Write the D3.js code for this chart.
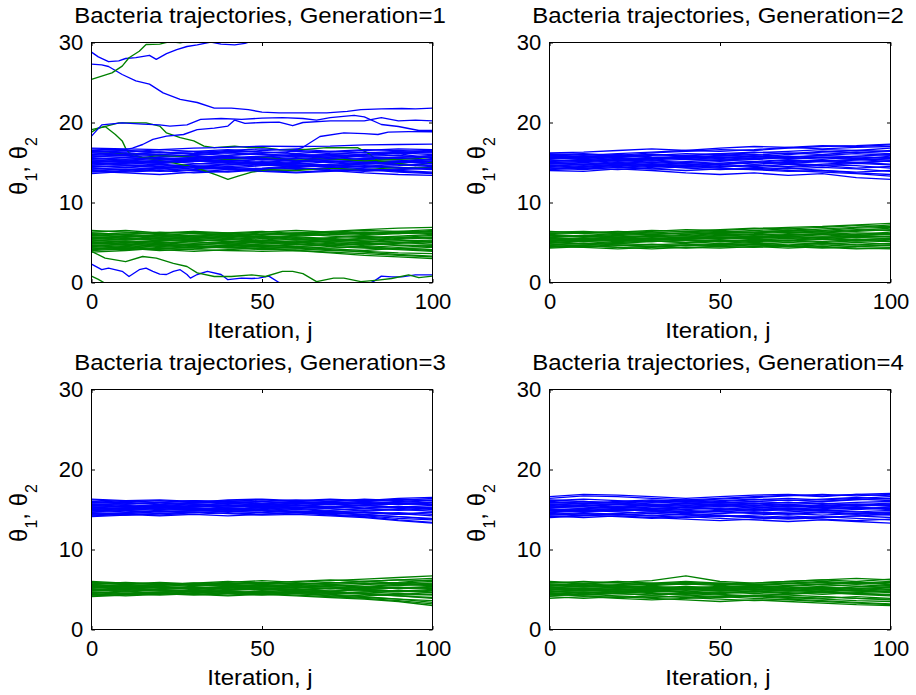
<!DOCTYPE html>
<html><head><meta charset="utf-8">
<script src="https://cdn.jsdelivr.net/npm/d3@7"></script>
<style>body{margin:0;background:#fff}svg{display:block}</style>
</head><body>
<svg id="c" width="916" height="695"></svg>
<script>
const iterations = [0,10,20,30,40,50,60,70,80,90,100];
const xTicks = [0,50,100];
const yTicks = [0,10,20,30];
const titles = ["Bacteria trajectories, Generation=1","Bacteria trajectories, Generation=2","Bacteria trajectories, Generation=3","Bacteria trajectories, Generation=4"];
const xLabel = "Iteration, j";

// Generation 1: theta1 (blue) band, values at iterations
const gen1Theta1 = [
[15.0,15.2,14.9,15.1,15.3,15.0,14.8,15.1,15.2,15.0,15.1],
[14.5,14.6,14.8,14.5,14.3,14.6,14.7,14.4,14.5,14.8,14.6],
[15.6,15.4,15.7,15.9,15.6,15.5,15.8,16.0,15.7,15.6,15.9],
[14.0,14.2,13.9,14.1,14.3,14.0,13.8,14.0,14.2,13.9,13.7],
[16.2,16.0,16.3,16.1,15.9,16.2,16.4,16.1,16.0,16.3,16.2],
[14.8,15.0,15.2,14.9,14.7,15.0,15.3,15.1,14.8,14.9,15.2],
[15.3,15.1,14.9,15.2,15.4,15.6,15.3,15.0,15.4,15.5,15.3],
[13.6,13.9,14.2,14.0,13.8,14.1,14.3,14.0,13.7,13.5,13.4],
[16.5,16.3,16.6,16.4,16.2,16.5,16.7,16.4,16.6,16.5,16.3],
[14.3,14.1,14.4,14.6,14.4,14.2,14.5,14.7,14.5,14.3,14.1],
[15.9,16.1,15.8,15.6,15.9,16.1,15.8,15.7,16.0,16.2,16.0],
[14.9,14.7,14.5,14.8,15.0,14.7,14.5,14.8,15.0,15.2,14.9],
[15.4,15.6,15.5,15.3,15.1,15.4,15.6,15.4,15.2,15.1,15.4],
[13.9,13.7,13.5,13.8,14.1,13.9,14.1,14.3,14.0,14.2,14.4],
[16.7,16.5,16.2,16.4,16.6,16.3,16.1,16.4,16.2,16.4,16.5],
[15.1,15.3,15.5,15.2,15.0,14.8,15.0,15.3,15.5,15.3,15.0],
[14.6,14.4,14.2,14.5,14.7,14.9,14.6,14.4,14.6,14.4,14.2],
[15.7,15.9,16.0,15.8,15.5,15.7,15.9,15.6,15.4,15.7,15.8],
[14.2,14.4,14.7,14.4,14.1,14.3,14.6,14.5,14.2,14.0,13.8],
[15.5,15.3,15.1,15.4,15.7,15.5,15.2,15.5,15.8,15.9,15.6],
[16.0,15.8,15.6,15.4,15.6,15.8,16.0,15.9,15.7,15.5,15.7],
[14.7,14.9,15.1,15.3,15.1,14.9,14.7,14.6,14.9,15.1,14.8],
[13.8,14.0,14.3,14.5,14.2,13.9,13.7,13.9,14.1,13.8,13.6],
[15.2,15.0,15.3,15.5,15.2,15.4,15.1,15.2,15.0,14.7,14.5],
[16.3,16.5,16.3,16.0,16.2,16.0,15.8,16.0,16.3,16.1,16.4],
[14.4,14.6,14.4,14.2,14.5,14.7,14.9,14.7,14.4,14.6,14.9],
[15.8,15.6,15.4,15.6,15.8,15.3,15.5,15.7,15.9,16.1,15.5],
[14.1,13.8,14.0,13.7,13.9,14.2,14.4,14.1,13.9,14.1,14.3],
[15.0,14.8,15.0,15.2,14.9,15.1,14.9,14.6,14.8,15.0,15.4],
[16.4,16.2,16.0,16.2,16.5,16.7,16.5,16.3,16.5,16.7,16.6]
];
// Generation 1: theta2 (green) band
const gen1Theta2 = [
[5.0,5.2,5.1,4.9,5.0,5.2,5.4,5.1,5.0,5.2,5.3],
[4.5,4.3,4.6,4.8,4.6,4.4,4.5,4.7,4.4,4.2,4.4],
[5.6,5.8,5.5,5.7,5.9,5.6,5.8,6.0,5.9,6.1,6.2],
[4.0,4.2,4.1,3.9,4.1,4.3,4.0,3.8,3.6,3.4,3.2],
[6.2,6.0,6.3,6.1,5.9,6.2,6.0,6.3,6.5,6.4,6.6],
[5.3,5.1,4.9,5.2,5.4,5.1,4.9,5.2,5.5,5.3,5.0],
[4.8,5.0,5.3,5.1,4.8,4.6,4.8,4.5,4.3,4.1,3.9],
[5.9,5.7,5.9,6.1,6.2,5.9,6.1,5.8,5.6,5.8,6.0],
[4.2,4.4,4.7,4.5,4.3,4.5,4.3,4.1,3.8,3.5,3.3],
[5.5,5.3,5.6,5.4,5.6,5.8,5.5,5.3,5.5,5.7,5.5],
[6.5,6.3,6.1,6.3,6.1,6.0,6.2,6.4,6.6,6.8,6.9],
[4.6,4.8,4.5,4.3,4.6,4.8,5.0,4.7,4.9,4.6,4.7],
[5.1,4.9,5.2,5.4,5.2,4.9,5.1,5.4,5.2,5.0,4.8],
[3.8,4.0,4.3,4.1,4.0,3.9,4.0,3.7,3.4,3.2,3.0],
[5.8,6.0,5.8,5.5,5.7,6.0,6.2,6.0,6.2,6.4,6.3],
[4.9,4.7,4.9,5.1,4.8,5.0,5.2,5.0,4.7,4.9,5.1],
[5.4,5.6,5.4,5.2,5.4,5.6,5.3,5.6,5.8,5.5,5.7],
[4.3,4.1,4.4,4.6,4.4,4.2,4.4,4.2,4.0,4.3,4.1],
[6.0,6.2,6.0,5.8,6.0,5.7,5.9,6.1,6.3,6.1,6.4],
[5.2,5.4,5.6,5.3,5.1,5.3,5.6,5.4,5.1,5.4,5.6],
[4.7,4.5,4.2,4.4,4.7,4.5,4.7,4.9,4.6,4.4,4.6],
[5.7,5.5,5.3,5.6,5.8,5.5,5.7,5.5,5.3,5.6,5.9],
[4.4,4.6,4.8,4.6,4.4,4.1,4.2,4.0,3.9,3.7,3.6],
[6.3,6.5,6.2,6.4,6.2,6.4,6.1,6.3,6.1,6.3,6.1],
[5.0,4.8,5.0,4.7,4.9,5.1,4.8,4.6,4.8,5.0,5.2],
[5.5,5.7,5.9,5.7,5.5,5.3,5.0,5.2,4.9,4.7,4.5],
[4.1,4.3,4.0,4.2,4.5,4.7,4.5,4.3,4.5,4.2,4.0],
[6.1,5.9,5.7,5.9,6.1,6.3,6.5,6.3,6.0,6.2,6.5]
];
// Generation 1: straying trajectories, [iteration, value] pairs
const gen1Theta1Strays = [
[[0,28.8],[2,28.2],[5,27.6],[8,27.7],[10,28.0],[13,28.1],[17,28.4],[19,27.9],[22,28.6],[25,29.1],[28,29.5],[31,29.7],[35,30.05],[38,29.8],[42,29.7],[45,29.9],[48,30.3]],
[[0,27.3],[3,27.2],[5,27.0],[9,26.0],[13,25.2],[17,24.8],[21,23.7],[26,22.9],[31,22.5],[36,21.8],[41,21.8],[46,21.6],[50,21.3],[55,21.2],[62,21.2],[69,21.2],[75,21.4],[79,21.6],[85,21.7],[91,21.75],[95,21.7],[100,21.8]],
[[0,18.3],[3,19.7],[9,19.95],[15,19.8],[20,19.7],[23,19.55],[28,19.7],[32,20.4],[38,20.5],[44,20.4],[50,20.55],[56,20.6],[62,20.5],[66,20.3],[70,20.6],[77,20.9],[80,20.7],[85,19.75],[90,19.5],[96,19.0],[100,19.0]],
[[0,16.5],[5,16.6],[10,16.6],[12,16.8],[15,17.25],[18,17.9],[22,18.3],[27,18.5],[31,19.1],[36,19.3],[40,19.55],[42,20.3],[45,19.9],[50,20.0],[55,20.05],[59,19.6],[62,20.0],[70,20.2],[80,20.2],[85,20.6],[90,20.2],[95,20.3],[100,20.2]],
[[0,16.2],[10,16.0],[20,16.3],[30,16.1],[40,16.4],[50,16.3],[57,16.2],[62,16.9],[67,18.25],[74,18.7],[80,18.6],[84,18.5],[87,18.8],[93,18.85],[100,18.85]],
[[0,16.8],[10,16.7],[20,16.6],[30,16.8],[40,16.9],[50,17.05],[60,17.0],[70,17.05],[80,17.2],[90,17.25],[100,17.3]],
[[0,2.3],[3,1.6],[5,1.8],[9,1.4],[11,0.75],[14,1.6],[16,1.8],[18,1.4],[20,1.05],[22,1.0],[24,1.4],[26,1.6],[28,1.0],[29,0.55],[31,1.0],[34,1.4],[38,1.0],[40,0.35],[44,0.55],[47,0.5],[49,0.55],[52,0.8],[55,0],[58,-0.5]],
[[80,-0.4],[83,0.2],[85,0.8],[88,0.7],[91,0.7],[95,0.95],[100,0.95]]
];
const gen1Theta2Strays = [
[[0,19.1],[3,19.4],[8,19.95],[12,19.95],[16,19.95],[20,19.55],[22,18.7],[26,18.1],[30,17.7],[33,17.05],[36,16.85],[42,17.05],[46,16.85],[50,16.9],[55,16.6],[62,16.6],[69,16.85],[78,16.85],[81,16.2],[84,15.2],[90,14.9],[95,14.6],[100,15.0]],
[[0,18.8],[2,19.3],[4,19.5],[7,18.5],[9,17.7],[10,16.8],[11,16.2],[15,15.6],[20,15.9],[30,15.7],[40,15.4],[50,15.6],[60,15.3],[70,15.5],[80,15.2],[90,15.4],[100,15.6]],
[[0,16.4],[5,16.3],[10,16.0],[15,15.6],[22,15.1],[28,14.6],[33,14.0],[37,13.4],[40,12.9],[43,13.3],[47,13.8],[52,14.1],[60,14.0],[70,14.3],[80,14.1],[90,14.4],[100,14.3]],
[[0,25.4],[3,25.8],[6,26.2],[9,27.05],[11,28.1],[14,28.9],[16,29.75],[20,29.8],[23,30.1],[26,29.95],[29,30.2],[32,30.6]],
[[0,3.9],[4,3.05],[10,2.6],[15,3.25],[19,3.05],[24,2.4],[28,2.0],[31,1.2],[36,0.75],[41,0.75],[47,0.96],[51,0.75],[56,1.4],[59,1.4],[62,1.1],[66,0.1],[71,0.55],[74,0.55],[79,0.1],[84,0.3],[88,0.5],[93,0.96],[96,0.6],[100,0.8]],
[[0,0.8],[2,0.4],[4,-0.1],[6,-0.5]]
];

const gen2Theta1 = [
[15.0,15.1,15.3,15.2,15.4,15.3,15.5,15.6,15.4,15.7,15.5],
[14.5,14.3,14.5,14.2,14.0,14.2,14.1,13.9,14.0,13.7,13.5],
[15.6,15.8,15.6,15.9,16.1,16.0,16.2,16.4,16.6,16.5,16.8],
[14.1,14.3,14.1,14.4,14.6,14.4,14.7,14.5,14.8,15.0,14.8],
[16.0,16.1,15.9,16.2,16.4,16.6,16.5,16.8,17.0,17.1,17.3],
[15.3,15.1,15.4,15.6,15.4,15.2,15.4,15.1,15.3,15.0,15.2],
[14.8,15.0,14.8,14.6,14.9,15.1,14.8,15.0,15.2,15.4,15.1],
[15.8,15.6,15.8,16.0,15.8,16.1,15.9,16.2,16.0,16.3,16.1],
[14.0,13.9,14.2,14.0,13.7,13.5,13.7,13.4,13.6,13.1,12.9],
[15.5,15.7,15.5,15.3,15.6,15.8,16.0,15.7,15.9,16.1,15.9],
[14.7,14.5,14.8,15.0,14.8,14.5,14.7,14.4,14.6,14.3,14.5],
[16.2,16.3,16.5,16.7,16.5,16.8,17.0,16.9,17.1,17.0,17.2],
[15.1,15.3,15.0,15.2,15.0,14.8,15.0,15.3,15.1,14.9,15.2],
[14.3,14.1,14.4,14.2,14.5,14.3,14.1,14.3,14.0,13.8,14.0],
[15.9,15.7,16.0,15.7,15.5,15.7,15.5,15.8,15.6,15.8,16.0],
[15.2,15.4,15.2,15.5,15.7,15.5,15.8,15.6,15.9,15.7,15.6],
[14.6,14.8,14.6,14.8,14.6,14.8,14.5,14.8,14.6,14.9,14.7],
[15.7,15.5,15.3,15.5,15.7,15.9,15.7,16.0,16.3,16.5,16.4],
[14.9,14.7,14.9,14.7,14.4,14.6,14.4,14.2,14.4,14.2,13.9],
[15.4,15.6,15.8,15.6,15.8,15.6,15.8,15.5,15.7,15.5,15.3],
[16.1,15.9,16.1,16.3,16.5,16.4,16.6,16.9,16.7,16.9,17.0],
[14.4,14.6,14.4,14.6,14.3,14.1,14.3,14.0,13.8,13.6,13.3],
[15.0,14.8,15.1,14.9,15.1,15.3,15.1,14.9,15.1,15.3,15.5],
[15.6,15.4,15.6,15.4,15.6,15.4,15.6,15.4,15.6,15.4,15.8],
[14.2,14.4,14.7,14.5,14.7,14.9,15.1,14.9,14.7,14.6,14.3],
[15.8,16.0,15.8,16.0,15.9,16.1,16.3,16.1,16.4,16.2,16.5]
];
const gen2Theta2 = [
[5.2,5.4,5.3,5.5,5.4,5.6,5.5,5.7,5.6,5.8,5.7],
[4.6,4.4,4.6,4.8,4.6,4.8,4.7,4.5,4.7,4.5,4.4],
[5.8,5.9,6.1,6.0,6.2,6.1,6.3,6.5,6.4,6.6,6.5],
[4.9,5.1,4.9,5.1,5.3,5.1,5.3,5.2,5.4,5.2,5.4],
[6.2,6.1,6.3,6.5,6.4,6.6,6.8,6.7,6.9,7.1,7.0],
[5.5,5.3,5.5,5.3,5.5,5.7,5.6,5.8,5.6,5.9,6.1],
[4.4,4.6,4.4,4.2,4.4,4.3,4.5,4.3,4.5,4.3,4.2],
[5.0,4.8,5.0,5.2,5.0,5.2,5.4,5.3,5.5,5.3,5.5],
[5.7,5.9,5.7,5.9,5.8,6.0,6.1,6.3,6.2,6.4,6.6],
[4.7,4.9,4.7,4.5,4.7,4.9,4.8,5.0,4.8,5.0,4.8],
[6.0,5.8,6.0,6.2,6.0,6.3,6.2,6.4,6.7,6.9,7.2],
[5.3,5.1,5.3,5.1,5.3,5.2,5.0,5.2,5.0,5.2,5.1],
[4.5,4.7,4.9,4.7,4.9,5.1,4.9,4.7,4.9,4.7,4.6],
[5.6,5.4,5.6,5.8,5.6,5.8,6.0,5.9,6.1,5.9,6.0],
[6.3,6.4,6.2,6.4,6.6,6.5,6.7,6.9,7.0,7.2,7.4],
[5.1,5.3,5.1,5.3,5.5,5.4,5.6,5.5,5.7,5.6,5.8],
[4.8,4.6,4.4,4.5,4.3,4.5,4.4,4.6,4.4,4.2,4.3],
[5.9,5.7,5.9,5.7,5.9,6.1,5.9,6.1,6.0,6.2,6.1],
[5.4,5.6,5.4,5.6,5.4,5.6,5.8,5.6,5.4,5.6,5.5],
[4.3,4.5,4.7,4.5,4.7,4.6,4.8,4.6,4.9,4.7,4.9],
[6.1,6.3,6.1,6.0,6.2,6.4,6.3,6.5,6.3,6.5,6.8],
[5.0,5.2,5.4,5.2,5.0,5.3,5.1,5.3,5.1,5.4,5.2],
[5.6,5.8,5.6,5.4,5.6,5.5,5.7,6.0,5.8,6.0,6.3],
[4.6,4.4,4.2,4.4,4.6,4.5,4.7,4.5,4.3,4.5,4.7],
[5.3,5.5,5.7,5.5,5.7,5.9,5.7,5.9,6.1,5.9,5.7],
[6.4,6.2,6.4,6.2,6.4,6.3,6.5,6.7,6.5,6.8,6.9]
];

const gen3Theta1 = [
[15.2,15.4,15.2,15.4,15.5,15.3,15.5,15.3,15.5,15.3,15.5],
[14.6,14.5,14.7,14.8,15.0,14.8,14.6,14.4,14.2,13.9,13.7],
[15.8,15.9,15.7,15.9,16.1,16.0,15.8,16.0,16.2,16.0,16.2],
[14.3,14.5,14.3,14.6,14.8,14.6,14.4,14.6,14.3,14.1,13.9],
[16.2,16.0,16.1,15.9,16.2,16.3,16.1,16.3,16.1,16.4,16.5],
[15.0,15.2,15.0,15.2,14.9,15.1,15.3,15.1,14.9,15.1,15.3],
[15.5,15.3,15.5,15.7,15.5,15.7,15.5,15.7,15.9,15.7,15.6],
[14.9,14.7,14.9,15.0,15.2,15.0,14.8,14.6,14.4,14.1,13.8],
[15.6,15.7,15.9,15.7,15.5,15.4,15.6,15.4,15.2,15.4,15.2],
[14.1,14.3,14.5,14.4,14.6,14.4,14.6,14.3,14.1,13.7,13.4],
[16.0,15.8,15.6,15.8,16.0,16.2,16.0,15.8,16.0,16.3,16.1],
[15.3,15.1,15.3,15.1,15.3,15.5,15.3,15.1,14.8,15.0,14.8],
[14.8,15.0,15.2,15.0,14.8,14.9,15.1,14.9,15.1,14.9,15.1],
[15.9,16.1,15.9,16.1,16.0,15.8,16.0,16.2,16.0,15.8,15.9],
[14.5,14.3,14.5,14.7,14.5,14.3,14.4,14.2,14.0,13.6,13.3],
[15.4,15.6,15.4,15.6,15.8,15.6,15.8,15.6,15.8,15.6,15.8],
[15.1,14.9,15.1,14.9,15.1,15.3,15.1,15.3,15.5,15.3,15.1],
[15.7,15.5,15.3,15.5,15.3,15.5,15.7,15.9,15.7,15.9,16.1],
[14.4,14.6,14.8,14.6,14.8,14.6,14.8,14.6,14.4,14.6,14.4],
[16.3,16.1,16.2,16.0,15.8,16.0,16.2,16.0,16.3,16.1,16.4],
[15.0,15.2,15.4,15.2,15.0,15.2,15.0,14.8,14.6,14.4,14.6],
[14.7,14.9,14.7,14.9,15.1,14.9,14.7,14.5,14.7,14.5,14.2],
[15.5,15.3,15.5,15.3,15.5,15.3,15.5,15.3,15.1,15.3,15.0],
[15.9,15.7,15.9,16.1,15.9,15.7,15.9,15.7,15.5,15.7,15.9],
[14.2,14.4,14.2,14.4,14.2,14.4,14.6,14.8,14.6,14.4,14.7],
[15.2,15.0,15.2,15.4,15.6,15.4,15.2,15.4,15.6,15.8,15.6]
];
const gen3Theta2 = [
[5.0,5.2,5.0,5.2,5.3,5.1,5.3,5.1,5.3,5.1,5.3],
[4.5,4.7,4.5,4.7,4.5,4.3,4.5,4.2,4.0,3.8,3.6],
[5.6,5.4,5.6,5.8,5.6,5.8,5.6,5.8,6.0,6.2,6.1],
[4.2,4.4,4.6,4.4,4.6,4.4,4.6,4.4,4.2,4.4,4.6],
[5.9,5.7,5.9,5.7,5.9,6.1,5.9,6.1,6.3,6.5,6.7],
[5.3,5.1,5.3,5.1,4.9,5.1,4.9,5.1,4.9,4.7,4.9],
[4.8,5.0,4.8,5.0,5.2,5.0,4.8,4.6,4.4,4.2,4.0],
[5.4,5.6,5.8,5.6,5.4,5.6,5.8,5.6,5.8,5.6,5.5],
[4.4,4.2,4.4,4.6,4.8,4.6,4.8,4.5,4.7,4.5,4.3],
[5.7,5.9,5.7,5.5,5.7,5.9,5.7,5.9,5.7,5.9,6.2],
[5.1,4.9,5.1,5.3,5.1,4.9,5.1,4.8,4.5,4.2,3.9],
[4.6,4.8,5.0,4.8,4.6,4.8,4.6,4.8,5.0,4.8,5.0],
[5.5,5.3,5.5,5.7,5.5,5.3,5.5,5.3,5.1,5.3,5.1],
[4.1,4.3,4.5,4.3,4.5,4.7,4.5,4.3,4.1,3.8,3.4],
[6.0,5.8,5.6,5.8,6.0,5.8,6.0,6.2,6.0,6.2,6.4],
[4.9,5.1,4.9,4.7,4.9,5.1,5.3,5.1,5.3,5.1,5.2],
[5.2,5.4,5.2,5.4,5.6,5.4,5.2,5.4,5.6,5.8,5.6],
[4.7,4.5,4.7,4.9,4.7,4.5,4.3,4.1,3.9,3.6,3.2],
[5.8,5.6,5.4,5.6,5.8,5.6,5.4,5.6,5.4,5.6,5.8],
[4.3,4.5,4.3,4.5,4.3,4.5,4.7,4.5,4.7,4.9,4.7],
[5.4,5.2,5.4,5.2,5.4,5.2,5.0,4.8,5.0,4.8,4.6],
[5.0,4.8,4.6,4.8,5.0,5.2,5.0,5.2,5.0,5.2,5.4],
[4.6,4.4,4.6,4.4,4.2,4.4,4.2,4.0,3.8,3.5,3.0],
[5.6,5.8,5.6,5.8,5.6,5.4,5.6,5.8,6.0,5.8,6.0],
[4.9,5.1,5.3,5.1,5.3,5.1,4.9,4.7,4.5,4.3,4.4],
[5.3,5.5,5.3,5.1,5.3,5.5,5.3,5.5,5.3,5.5,5.7]
];

const gen4Theta1 = [
[15.0,14.8,15.0,14.8,15.0,15.2,15.0,15.2,15.0,15.2,15.0],
[14.4,14.6,14.4,14.2,14.0,14.2,14.0,14.2,14.0,14.2,14.4],
[15.6,15.8,15.6,15.8,16.0,15.8,16.0,16.2,16.0,16.3,16.1],
[14.1,14.3,14.1,13.9,14.1,13.9,13.7,13.5,13.7,13.5,13.3],
[16.4,16.7,16.6,16.4,16.2,16.4,16.6,16.8,16.6,16.9,16.7],
[15.3,15.1,15.3,15.1,15.3,15.5,15.3,15.1,15.3,15.1,15.3],
[14.7,14.9,14.7,14.5,14.7,14.5,14.7,14.5,14.3,14.5,14.3],
[15.9,15.7,15.9,16.1,15.9,16.1,16.3,16.1,16.3,16.5,16.3],
[14.2,14.0,14.2,14.0,13.8,13.6,13.8,14.0,13.8,13.6,13.8],
[15.4,15.6,15.4,15.6,15.4,15.6,15.8,15.6,15.8,15.6,15.8],
[16.1,16.3,16.1,15.9,16.1,16.3,16.5,16.7,16.9,16.7,16.9],
[14.9,14.7,14.9,15.1,14.9,14.7,14.5,14.7,14.9,14.7,14.5],
[15.2,15.4,15.6,15.4,15.2,15.4,15.2,15.4,15.6,15.4,15.6],
[14.5,14.3,14.5,14.7,14.5,14.3,14.1,13.9,14.1,13.9,13.7],
[15.7,15.5,15.7,15.5,15.7,15.9,15.7,15.9,15.7,15.9,16.0],
[14.8,15.0,14.8,15.0,15.2,15.0,14.8,15.0,14.8,15.0,15.2],
[15.5,15.3,15.1,15.3,15.5,15.7,15.5,15.3,15.5,15.7,15.5],
[14.0,14.2,14.4,14.2,14.4,14.2,14.0,13.8,14.0,14.2,14.0],
[16.0,15.8,16.0,16.2,16.0,15.8,16.0,15.8,16.0,16.2,16.4],
[15.1,14.9,15.1,14.9,14.7,14.9,15.1,14.9,15.1,15.3,15.1],
[14.6,14.8,15.0,14.8,14.6,14.8,14.6,14.4,14.6,14.4,14.6],
[15.8,16.0,15.8,15.6,15.8,15.6,15.4,15.6,15.4,15.6,15.4],
[14.3,14.5,14.3,14.5,14.3,14.1,14.3,14.5,14.7,14.5,14.7],
[15.3,15.5,15.3,15.5,15.7,15.5,15.7,15.5,15.3,15.5,15.7],
[14.9,15.1,15.3,15.1,15.3,15.1,14.9,15.1,14.9,14.7,14.9],
[16.2,16.0,15.8,16.0,16.2,16.0,16.2,16.4,16.2,16.4,16.6],
[16.6,16.9,16.8,16.6,16.4,16.6,16.8,16.9,16.7,16.9,17.0]
];
const gen4Theta2 = [
[5.0,4.8,5.0,4.8,5.0,4.8,5.0,4.8,5.0,4.8,5.0],
[4.4,4.2,4.0,4.2,4.0,3.8,3.6,3.8,3.6,3.4,3.2],
[5.5,5.7,5.5,5.7,5.9,5.7,5.5,5.7,5.9,5.7,5.9],
[4.1,3.9,4.1,3.9,3.7,3.5,3.7,3.5,3.3,3.1,3.0],
[5.9,5.7,5.9,6.1,6.7,6.0,5.8,6.0,6.2,6.4,6.2],
[4.7,4.9,4.7,4.9,4.7,4.5,4.7,4.5,4.7,4.5,4.3],
[5.3,5.1,5.3,5.1,5.3,5.1,4.9,5.1,4.9,5.1,5.3],
[4.5,4.7,4.5,4.3,4.5,4.7,4.5,4.3,4.1,3.9,3.7],
[5.6,5.4,5.6,5.8,5.6,5.8,5.6,5.8,6.0,5.8,6.0],
[4.9,5.1,4.9,5.1,4.9,5.1,5.3,5.1,5.3,5.1,4.9],
[4.2,4.4,4.2,4.0,4.2,4.0,4.2,4.0,3.8,3.6,3.5],
[5.8,6.0,5.8,5.6,5.8,5.6,5.8,6.0,6.2,6.0,6.3],
[5.1,4.9,5.1,4.9,4.7,4.9,4.7,4.9,4.7,4.9,4.7],
[4.6,4.4,4.6,4.8,4.6,4.4,4.2,4.4,4.6,4.4,4.2],
[5.4,5.6,5.4,5.2,5.4,5.2,5.4,5.2,5.4,5.6,5.4],
[3.9,4.1,3.9,3.7,3.9,4.1,3.9,3.7,3.5,3.3,3.1],
[6.0,5.8,6.0,5.8,6.0,5.8,5.6,5.8,5.6,5.8,5.6],
[4.8,4.6,4.8,4.6,4.4,4.6,4.8,4.6,4.4,4.6,4.8],
[5.2,5.4,5.2,5.4,5.2,5.0,5.2,5.4,5.6,5.4,5.2],
[4.3,4.5,4.7,4.5,4.3,4.1,4.3,4.1,3.9,4.1,3.9],
[5.7,5.5,5.3,5.5,5.7,5.5,5.3,5.5,5.7,5.9,5.7],
[5.0,5.2,5.0,5.2,5.0,5.2,5.0,4.8,5.0,4.8,4.6],
[4.5,4.3,4.5,4.3,4.5,4.3,4.1,3.9,4.1,3.9,3.8],
[5.5,5.3,5.5,5.3,5.1,5.3,5.5,5.3,5.1,5.3,5.5],
[4.7,4.9,5.1,4.9,5.1,4.9,5.1,4.9,4.7,4.5,4.4],
[5.2,5.0,4.8,5.0,5.2,5.4,5.2,5.0,5.2,5.0,5.2]
];

const panels = [
  {title: titles[0], t1: gen1Theta1, t2: gen1Theta2, s1: gen1Theta1Strays, s2: gen1Theta2Strays},
  {title: titles[1], t1: gen2Theta1, t2: gen2Theta2, s1: [], s2: []},
  {title: titles[2], t1: gen3Theta1, t2: gen3Theta2, s1: [], s2: []},
  {title: titles[3], t1: gen4Theta1, t2: gen4Theta2, s1: [], s2: []}
];

const BLUE = "#0000ff", GREEN = "#008000";
const FONT = "'Liberation Sans', Arial, Helvetica, sans-serif";
const W = 341, H = 240;
const origins = [[91.5,42.5],[549.5,42.5],[91.5,389.5],[549.5,389.5]];

const svg = d3.select("#c");
const x = d3.scaleLinear().domain([0,100]).range([0,W]);
const y = d3.scaleLinear().domain([0,30]).range([H,0]);
const bandLine = d3.line().x((d,i)=>x(iterations[i])).y(d=>y(d));
const strayLine = d3.line().x(d=>x(d[0])).y(d=>y(d[1]));

panels.forEach((p, k) => {
  const [ox, oy] = origins[k];
  const g = svg.append("g").attr("transform", `translate(${ox},${oy})`);
  const clipId = "clip" + k;
  g.append("clipPath").attr("id", clipId).append("rect").attr("width", W).attr("height", H);
  const plot = g.append("g").attr("clip-path", `url(#${clipId})`);

  const items = [];
  const half = Math.floor(p.t1.length / 2);
  p.t1.forEach((d, i) => {
    items.push({path: bandLine(d), c: BLUE});
    if (i < p.t2.length) items.push({path: bandLine(p.t2[i]), c: GREEN});
    if (i === half) {
      p.s2.slice(0,3).forEach(s => items.push({path: strayLine(s), c: GREEN}));
    }
  });
  for (let i = p.t1.length; i < p.t2.length; i++) items.push({path: bandLine(p.t2[i]), c: GREEN});
  p.s1.forEach(s => items.push({path: strayLine(s), c: BLUE}));
  p.s2.slice(3).forEach(s => items.push({path: strayLine(s), c: GREEN}));

  plot.selectAll("path.traj").data(items).join("path")
    .attr("class","traj")
    .attr("d", d => d.path)
    .attr("fill","none")
    .attr("stroke", d => d.c)
    .attr("stroke-width", 1.35)
    .attr("stroke-linejoin","round");

  const fmt = d3.format("d");
  const ax = g.append("g").attr("transform", `translate(0,${H})`)
    .call(d3.axisBottom(x).tickValues(xTicks).tickFormat(fmt).tickSizeInner(-3.5).tickSizeOuter(0).tickPadding(10.7));
  const axT = g.append("g")
    .call(d3.axisTop(x).tickValues(xTicks).tickFormat("").tickSizeInner(-3.5).tickSizeOuter(0));
  const ay = g.append("g")
    .call(d3.axisLeft(y).tickValues(yTicks).tickFormat(fmt).tickSizeInner(-3.5).tickSizeOuter(0).tickPadding(8.2));
  const ayR = g.append("g").attr("transform", `translate(${W},0)`)
    .call(d3.axisRight(y).tickValues(yTicks).tickFormat("").tickSizeInner(-3.5).tickSizeOuter(0));
  [ax, axT, ay, ayR].forEach(a => {
    a.select(".domain").remove();
    a.selectAll("line").attr("stroke","#000");
    a.selectAll("text").attr("fill","#000").style("font-family", FONT).style("font-size","22px");
  });

  g.append("rect").attr("width", W).attr("height", H)
    .attr("fill","none").attr("stroke","#000").attr("stroke-width",1);

  g.append("text")
    .attr("transform", `translate(${W/2 - 2},${-19.7}) scale(1,0.9)`)
    .attr("text-anchor","middle")
    .style("font-family", FONT).style("font-size","24px")
    .text(p.title);

  g.append("text")
    .attr("transform", `translate(${W/2 - 2},${H + 55.5}) scale(1,0.9)`)
    .attr("text-anchor","middle")
    .style("font-family", FONT).style("font-size","24px")
    .text(xLabel);

  const yl = g.append("text")
    .attr("transform", `translate(${-64.5},${123.5}) rotate(-90)`)
    .attr("text-anchor","middle")
    .style("font-family", FONT).style("font-size","24px");
  yl.append("tspan").text("θ");
  yl.append("tspan").attr("dy", 10).style("font-size","16px").text("1");
  yl.append("tspan").attr("dy", -10).text(", θ");
  yl.append("tspan").attr("dy", 10).style("font-size","16px").text("2");
});
</script>
</body></html>
